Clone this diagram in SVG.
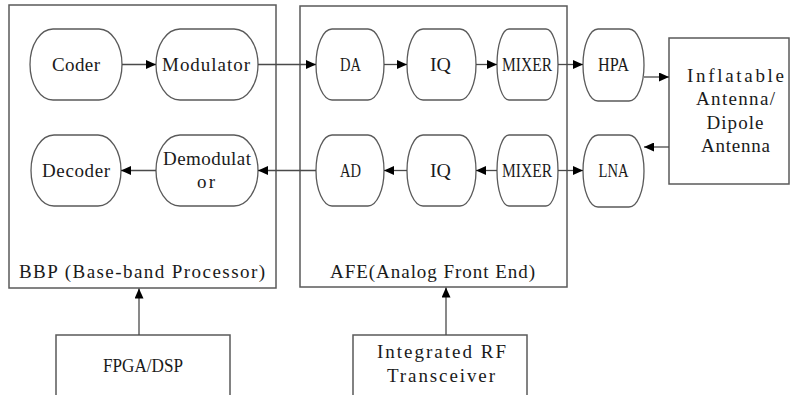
<svg xmlns="http://www.w3.org/2000/svg" width="790" height="395" viewBox="0 0 790 395">
  <style>
    .frame { fill: #ffffff; stroke: #5a5a5a; stroke-width: 1.5; }
    .blk { fill: #ffffff; stroke: #5a5a5a; stroke-width: 1.3; }
    .wire { fill: none; stroke: #4a4a4a; stroke-width: 1.3; }
    text { font-family: "Liberation Serif", "Times New Roman", serif; font-size: 19px; fill: #1a1a1a; }
    .c { text-anchor: middle; }
  </style>
  <defs>
    <marker id="tip" markerUnits="userSpaceOnUse" markerWidth="11" markerHeight="9" refX="10" refY="4.5" orient="auto">
      <path d="M0,0 L10,4.5 L0,9 Z" fill="#000000"/>
    </marker>
  </defs>

  <rect width="790" height="395" fill="#ffffff"/>

  <!-- Base-band processor -->
  <g id="bbp">
    <rect class="frame" x="9" y="5" width="267" height="283"/>
    <text x="19" y="277.5" textLength="246" lengthAdjust="spacing">BBP (Base-band Processor)</text>
  </g>

  <!-- Analog front end -->
  <g id="afe">
    <rect class="frame" x="300" y="6" width="267" height="281"/>
    <text x="330" y="277.5" textLength="205" lengthAdjust="spacing">AFE(Analog Front End)</text>
  </g>

  <g id="coder">
    <rect class="blk" x="30" y="29" width="92" height="71" rx="23" ry="35.5"/>
    <text class="c" x="76" y="71" textLength="48" lengthAdjust="spacing">Coder</text>
  </g>
  <g id="modulator">
    <rect class="blk" x="156" y="29" width="102" height="71" rx="24" ry="35.5"/>
    <text class="c" x="206" y="71" textLength="88" lengthAdjust="spacing">Modulator</text>
  </g>
  <g id="decoder">
    <rect class="blk" x="31" y="135" width="90" height="71" rx="23" ry="35.5"/>
    <text class="c" x="76" y="177" textLength="68" lengthAdjust="spacing">Decoder</text>
  </g>
  <g id="demodulator">
    <rect class="blk" x="156" y="135" width="102" height="71" rx="24" ry="35.5"/>
    <text class="c" x="207" y="165" textLength="88" lengthAdjust="spacing">Demodulat</text>
    <text class="c" x="206" y="188" textLength="18" lengthAdjust="spacing">or</text>
  </g>

  <g id="da">
    <rect class="blk" x="316" y="29" width="68" height="71" rx="16" ry="35.5"/>
    <text class="c" x="350.5" y="71" textLength="21" lengthAdjust="spacingAndGlyphs">DA</text>
  </g>
  <g id="iq-tx">
    <rect class="blk" x="407" y="29" width="69" height="71" rx="16" ry="35.5"/>
    <text class="c" x="440.5" y="71" textLength="21" lengthAdjust="spacingAndGlyphs">IQ</text>
  </g>
  <g id="mixer-tx">
    <rect class="blk" x="497" y="29" width="61" height="71" rx="12" ry="35.5"/>
    <text class="c" x="527" y="71" textLength="50" lengthAdjust="spacingAndGlyphs">MIXER</text>
  </g>
  <g id="ad">
    <rect class="blk" x="316" y="135" width="68" height="71" rx="16" ry="35.5"/>
    <text class="c" x="350.5" y="177" textLength="21" lengthAdjust="spacingAndGlyphs">AD</text>
  </g>
  <g id="iq-rx">
    <rect class="blk" x="407" y="135" width="69" height="71" rx="16" ry="35.5"/>
    <text class="c" x="440.5" y="177" textLength="21" lengthAdjust="spacingAndGlyphs">IQ</text>
  </g>
  <g id="mixer-rx">
    <rect class="blk" x="497" y="135" width="61" height="71" rx="12" ry="35.5"/>
    <text class="c" x="527" y="177" textLength="50" lengthAdjust="spacingAndGlyphs">MIXER</text>
  </g>

  <g id="hpa">
    <rect class="blk" x="583" y="29" width="61" height="72" rx="15" ry="36"/>
    <text class="c" x="613.5" y="71" textLength="31" lengthAdjust="spacingAndGlyphs">HPA</text>
  </g>
  <g id="lna">
    <rect class="blk" x="583" y="135" width="61" height="72" rx="15" ry="36"/>
    <text class="c" x="613.5" y="177" textLength="30" lengthAdjust="spacingAndGlyphs">LNA</text>
  </g>

  <g id="antenna">
    <rect class="frame" x="669" y="38" width="120" height="146"/>
    <text class="c" x="735.5" y="82" textLength="97" lengthAdjust="spacing">Inflatable</text>
    <text class="c" x="735.5" y="105" textLength="79" lengthAdjust="spacing">Antenna/</text>
    <text class="c" x="735" y="128.5" textLength="57" lengthAdjust="spacing">Dipole</text>
    <text class="c" x="735.5" y="152" textLength="69" lengthAdjust="spacing">Antenna</text>
  </g>

  <g id="fpga">
    <rect class="frame" x="56" y="335" width="174" height="70"/>
    <text class="c" x="143" y="371.5" textLength="80" lengthAdjust="spacingAndGlyphs">FPGA/DSP</text>
  </g>
  <g id="rf-transceiver">
    <rect class="frame" x="353" y="335" width="174" height="70"/>
    <text class="c" x="441.5" y="358" textLength="129" lengthAdjust="spacing">Integrated RF</text>
    <text class="c" x="441" y="381.5" textLength="108" lengthAdjust="spacing">Transceiver</text>
  </g>

  <g id="connectors">
    <!-- transmit chain -->
    <line class="wire" x1="122" y1="64.5" x2="156" y2="64.5" marker-end="url(#tip)"/>
    <line class="wire" x1="258" y1="64.5" x2="316" y2="64.5" marker-end="url(#tip)"/>
    <line class="wire" x1="384" y1="64.5" x2="407" y2="64.5" marker-end="url(#tip)"/>
    <line class="wire" x1="476" y1="64.5" x2="497" y2="64.5" marker-end="url(#tip)"/>
    <line class="wire" x1="558" y1="64.5" x2="583" y2="64.5" marker-end="url(#tip)"/>
    <line class="wire" x1="644" y1="77" x2="669" y2="77" marker-end="url(#tip)"/>
    <!-- receive chain -->
    <line class="wire" x1="669" y1="147" x2="644" y2="147" marker-end="url(#tip)"/>
    <line class="wire" x1="558" y1="170.5" x2="583" y2="170.5" marker-end="url(#tip)"/>
    <line class="wire" x1="497" y1="170.5" x2="476" y2="170.5" marker-end="url(#tip)"/>
    <line class="wire" x1="407" y1="170.5" x2="384" y2="170.5" marker-end="url(#tip)"/>
    <line class="wire" x1="316" y1="170.5" x2="258" y2="170.5" marker-end="url(#tip)"/>
    <line class="wire" x1="156" y1="170.5" x2="121" y2="170.5" marker-end="url(#tip)"/>
    <!-- platform links -->
    <line class="wire" x1="139" y1="335" x2="139" y2="288.5" marker-end="url(#tip)"/>
    <line class="wire" x1="446" y1="335" x2="446" y2="287.5" marker-end="url(#tip)"/>
  </g>
</svg>
